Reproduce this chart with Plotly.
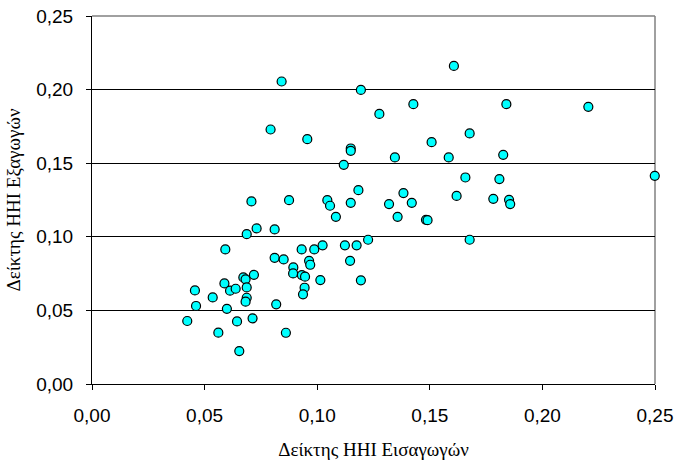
import plotly.graph_objects as go

hhi_imports = [
    0.0423, 0.0457, 0.0462, 0.0536, 0.0561, 0.0592, 0.0588, 0.0599, 0.0613, 0.0638,
    0.0644, 0.0654, 0.0672, 0.0682, 0.0687, 0.0687, 0.0682, 0.0687, 0.0731, 0.0713,
    0.0719, 0.0811, 0.0811, 0.0851, 0.0818, 0.0861, 0.0894, 0.0893, 0.0931, 0.0932,
    0.0946, 0.0944, 0.0937, 0.0964, 0.0969, 0.0987, 0.1024, 0.1014, 0.0842, 0.0793,
    0.0956, 0.0708, 0.0875, 0.1045, 0.1057, 0.1083, 0.1607, 0.1194, 0.1276, 0.1427,
    0.1840, 0.2204, 0.1677, 0.1508, 0.1149, 0.1149, 0.1345, 0.1584, 0.1826, 0.1118,
    0.2499, 0.1658, 0.1809, 0.1183, 0.1383, 0.1619, 0.1149, 0.1319, 0.1420, 0.1782,
    0.1852, 0.1857, 0.1357, 0.1483, 0.1490, 0.1123, 0.1175, 0.1226, 0.1146, 0.1194,
    0.1677,
]
hhi_exports = [
    0.0428, 0.0636, 0.0530, 0.0588, 0.0349, 0.0914, 0.0683, 0.0511, 0.0634, 0.0647,
    0.0425, 0.0224, 0.0724, 0.0711, 0.0656, 0.0586, 0.0559, 0.1018, 0.1057, 0.0446,
    0.0742, 0.1050, 0.0857, 0.0846, 0.0541, 0.0348, 0.0792, 0.0751, 0.0914, 0.0740,
    0.0729, 0.0654, 0.0609, 0.0837, 0.0810, 0.0914, 0.0942, 0.0706, 0.2055, 0.1729,
    0.1663, 0.1240, 0.1249, 0.1249, 0.1211, 0.1136, 0.2161, 0.1998, 0.1835, 0.1901,
    0.1901, 0.1883, 0.1702, 0.1643, 0.1600, 0.1584, 0.1539, 0.1539, 0.1557, 0.1489,
    0.1414, 0.1403, 0.1392, 0.1317, 0.1297, 0.1278, 0.1231, 0.1222, 0.1231, 0.1258,
    0.1251, 0.1222, 0.1136, 0.1115, 0.1113, 0.0942, 0.0942, 0.0980, 0.0837, 0.0704,
    0.0980,
]
x_title = "Δείκτης HHI Εισαγωγών"
y_title = "Δείκτης HHI Εξαγωγών"

fig = go.Figure()
fig.add_trace(go.Scatter(
    x=hhi_imports, y=hhi_exports, mode="markers",
    marker=dict(size=9, color="#00FFFF", line=dict(color="#000000", width=1.2)),
    cliponaxis=False, showlegend=False, hoverinfo="x+y",
))

tick_font = dict(family="Liberation Sans, Arial, sans-serif", size=19, color="#000000")
title_font = dict(family="Times New Roman, Liberation Serif, DejaVu Serif, serif", size=19, color="#000000")

fig.update_layout(
    width=677, height=461,
    margin=dict(l=92, r=22, t=16, b=77, autoexpand=False),
    paper_bgcolor="white", plot_bgcolor="white",
    separators=",.",
    xaxis=dict(
        range=[0, 0.25], dtick=0.05, tick0=0, tickformat=".2f",
        showgrid=False, zeroline=False, automargin=False,
        showline=True, linecolor="#000000", linewidth=1,
        ticks="outside", ticklen=5, tickcolor="#000000", tickwidth=1,
        tickfont=tick_font, ticklabelstandoff=9,
        title=dict(text=x_title, font=title_font, standoff=17),
    ),
    yaxis=dict(
        range=[0, 0.25], dtick=0.05, tick0=0, tickformat=".2f",
        showgrid=True, gridcolor="#000000", gridwidth=1,
        zeroline=False, automargin=False,
        showline=True, linecolor="#000000", linewidth=1,
        ticks="outside", ticklen=5, tickcolor="#000000", tickwidth=1,
        tickfont=tick_font, ticklabelstandoff=9,
        title=dict(text=y_title, font=title_font, standoff=10),
    ),
    shapes=[
        dict(type="line", xref="x domain", yref="y domain", x0=0, x1=1, y0=1, y1=1,
             line=dict(color="#808080", width=1.5), layer="above"),
        dict(type="line", xref="x domain", yref="y domain", x0=1, x1=1, y0=0, y1=1,
             line=dict(color="#808080", width=1.5), layer="below"),
    ],
)

fig.write_html("out.html", config={"displayModeBar": False},
               post_script="document.body.style.margin='0';")
